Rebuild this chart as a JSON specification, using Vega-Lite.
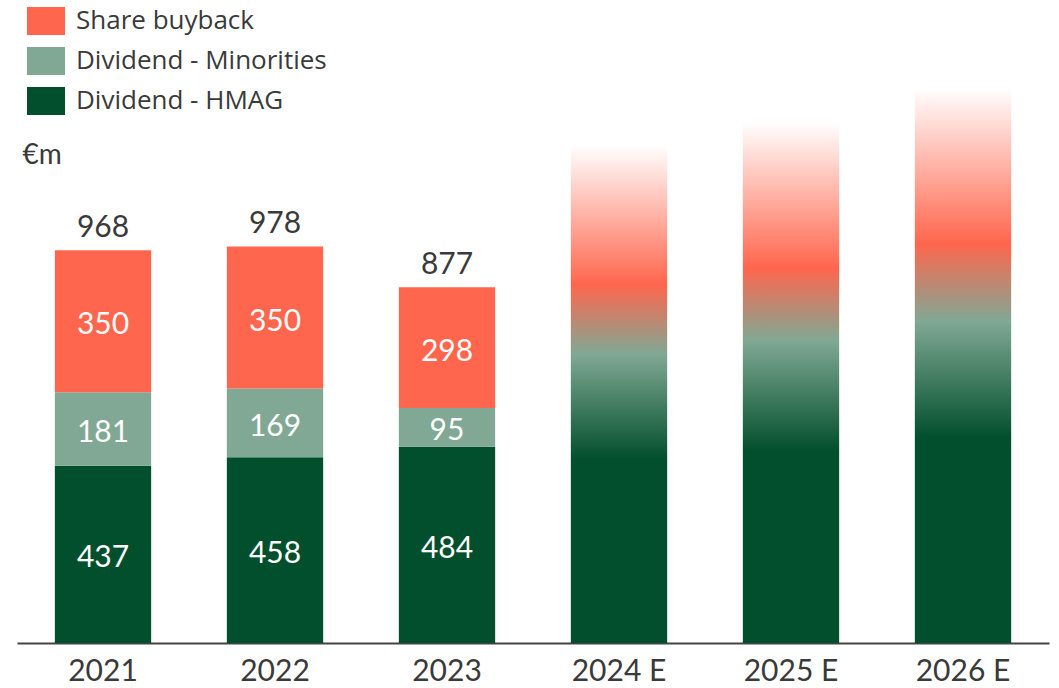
{
  "$schema": "https://vega.github.io/schema/vega-lite/v6.json",
  "width": 1032,
  "height": 568,
  "autosize": {"type": "none"},
  "padding": {"left": 17, "top": 75, "right": 10, "bottom": 45},
  "background": "white",
  "config": {"view": {"stroke": null}, "font": "Lato"},
  "datasets": {
    "segments": [
      {"year": "2021", "segment": "Dividend - HMAG", "value": 437},
      {"year": "2021", "segment": "Dividend - Minorities", "value": 181},
      {"year": "2021", "segment": "Share buyback", "value": 350},
      {"year": "2022", "segment": "Dividend - HMAG", "value": 458},
      {"year": "2022", "segment": "Dividend - Minorities", "value": 169},
      {"year": "2022", "segment": "Share buyback", "value": 350},
      {"year": "2023", "segment": "Dividend - HMAG", "value": 484},
      {"year": "2023", "segment": "Dividend - Minorities", "value": 95},
      {"year": "2023", "segment": "Share buyback", "value": 298}
    ],
    "totals": [
      {"year": "2021", "total": 968},
      {"year": "2022", "total": 978},
      {"year": "2023", "total": 877}
    ],
    "est": [
      {"year": "2024 E", "value": 1227},
      {"year": "2025 E", "value": 1284},
      {"year": "2026 E", "value": 1368}
    ]
  },
  "encoding": {
    "x": {
      "field": "year",
      "type": "nominal",
      "title": null,
      "scale": {
        "domain": ["2021", "2022", "2023", "2024 E", "2025 E", "2026 E"],
        "paddingInner": 0.44,
        "paddingOuter": 0.22
      },
      "axis": {
        "labelAngle": 0,
        "labelFontSize": 30,
        "labelColor": "#3a3a3a",
        "labelPadding": 13,
        "ticks": false,
        "domainColor": "#444444",
        "domainWidth": 2,
        "grid": false
      }
    }
  },
  "layer": [
    {
      "data": {"name": "est"},
      "mark": {
        "type": "bar",
        "color": {
          "gradient": "linear",
          "x1": 0, "y1": 1, "x2": 0, "y2": 0,
          "stops": [
            {"offset": 0, "color": "#024f2d"},
            {"offset": 0.37, "color": "#024f2d"},
            {"offset": 0.58, "color": "#80a894"},
            {"offset": 0.72, "color": "#ff664d"},
            {"offset": 1, "color": "#ffffff"}
          ]
        }
      },
      "encoding": {
        "y": {
          "field": "value",
          "type": "quantitative",
          "scale": {"domain": [0, 1400], "nice": false},
          "axis": {"domain": false, "ticks": false, "labels": false, "grid": false, "title": "€m", "titleAngle": 0, "titleAlign": "left", "titleBaseline": "middle", "titleX": 5, "titleY": 80, "titleFontSize": 28, "titleFontWeight": "normal", "titleColor": "#3a3a3a"}
        }
      }
    },
    {
      "data": {"name": "segments"},
      "mark": {"type": "bar"},
      "encoding": {
        "y": {
          "field": "value",
          "type": "quantitative",
          "stack": "zero",
          "axis": {"domain": false, "ticks": false, "labels": false, "grid": false, "title": "€m", "titleAngle": 0, "titleAlign": "left", "titleBaseline": "middle", "titleX": 5, "titleY": 80, "titleFontSize": 28, "titleFontWeight": "normal", "titleColor": "#3a3a3a"}
        },
        "color": {
          "field": "segment",
          "type": "nominal",
          "scale": {
            "domain": ["Share buyback", "Dividend - Minorities", "Dividend - HMAG"],
            "range": ["#ff664d", "#80a894", "#024f2d"]
          },
          "legend": {
            "orient": "none",
            "legendX": 10,
            "legendY": -73,
            "title": null,
            "symbolType": "M-1,-0.737H1V0.737H-1Z",
            "symbolSize": 1444,
            "symbolStrokeWidth": 0,
            "symbolOpacity": 1,
            "labelFont": "Open Sans",
            "labelFontSize": 26,
            "labelColor": "#3a3a3a",
            "labelOffset": 11,
            "labelLimit": 0,
            "rowPadding": 6
          }
        },
        "order": {"field": "segment", "sort": "ascending"}
      }
    },
    {
      "data": {"name": "segments"},
      "transform": [
        {"stack": "value", "groupby": ["year"], "sort": [{"field": "segment", "order": "ascending"}], "as": ["v0", "v1"]},
        {"calculate": "(datum.v0 + datum.v1) / 2", "as": "mid"}
      ],
      "mark": {"type": "text", "color": "white", "fontSize": 30, "baseline": "middle", "dy": 4},
      "encoding": {
        "y": {
          "field": "mid",
          "type": "quantitative",
          "axis": {"domain": false, "ticks": false, "labels": false, "grid": false, "title": "€m", "titleAngle": 0, "titleAlign": "left", "titleBaseline": "middle", "titleX": 5, "titleY": 80, "titleFontSize": 28, "titleFontWeight": "normal", "titleColor": "#3a3a3a"}
        },
        "text": {"field": "value", "type": "quantitative"}
      }
    },
    {
      "data": {"name": "totals"},
      "mark": {"type": "text", "color": "#3a3a3a", "fontSize": 30, "baseline": "alphabetic", "dy": -13},
      "encoding": {
        "y": {
          "field": "total",
          "type": "quantitative",
          "axis": {"domain": false, "ticks": false, "labels": false, "grid": false, "title": "€m", "titleAngle": 0, "titleAlign": "left", "titleBaseline": "middle", "titleX": 5, "titleY": 80, "titleFontSize": 28, "titleFontWeight": "normal", "titleColor": "#3a3a3a"}
        },
        "text": {"field": "total", "type": "quantitative"}
      }
    }
  ]
}
